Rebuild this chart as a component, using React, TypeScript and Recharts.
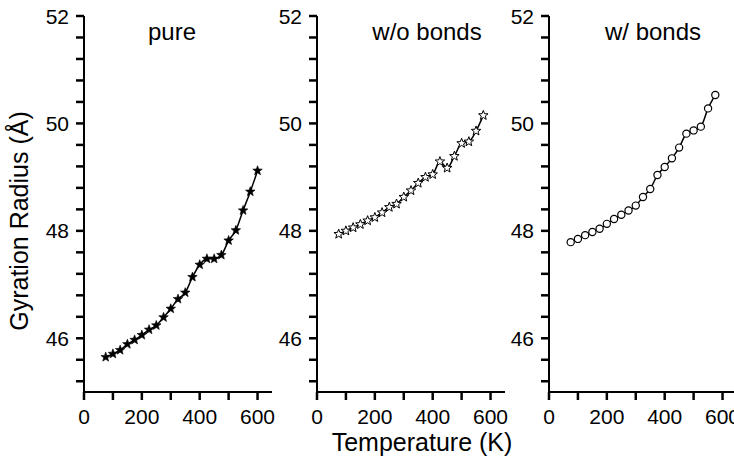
import React from "react";
import { LineChart, Line, XAxis, YAxis } from "recharts";

// Gyration radius (Å) against temperature (K) for the three systems
const TEMPS_PURE = [75, 100, 125, 150, 175, 200, 225, 250, 275, 300, 325, 350, 375, 400, 425, 450, 475, 500, 525, 550, 575, 600];
const TEMPS = [75, 100, 125, 150, 175, 200, 225, 250, 275, 300, 325, 350, 375, 400, 425, 450, 475, 500, 525, 550, 575];

const RG_PURE = [45.65, 45.71, 45.78, 45.89, 45.97, 46.06, 46.16, 46.24, 46.39, 46.55, 46.73, 46.85, 47.14, 47.37, 47.48, 47.48, 47.55, 47.82, 48.01, 48.38, 48.73, 49.12];
const RG_NO_BONDS = [47.94, 48.0, 48.06, 48.12, 48.19, 48.25, 48.34, 48.44, 48.5, 48.63, 48.75, 48.89, 49.0, 49.05, 49.29, 49.17, 49.39, 49.63, 49.66, 49.86, 50.15];
const RG_BONDS = [47.79, 47.85, 47.92, 47.98, 48.04, 48.13, 48.22, 48.3, 48.38, 48.47, 48.63, 48.78, 49.04, 49.19, 49.35, 49.55, 49.81, 49.87, 49.94, 50.28, 50.53];

const Y_TICKS = [45.2, 45.6, 46, 46.4, 46.8, 47.2, 47.6, 48, 48.4, 48.8, 49.2, 49.6, 50, 50.4, 50.8, 51.2, 51.6, 52];
const Y_LABELS = [46, 48, 50, 52];
const X_TICKS = [0, 100, 200, 300, 400, 500, 600];
const X_LABELS = [0, 200, 400, 600];

const FONT = '"Liberation Sans", Arial, Helvetica, sans-serif';
const AXIS_W = 80; // room left of each plot for the y tick labels
const PLOT_TOP = 16;
const PLOT_H = 376;
const PLOT_W = 188;
const X_AXIS_H = 40;
const CHART_W = AXIS_W + PLOT_W + 6;
const CHART_H = PLOT_TOP + PLOT_H + X_AXIS_H;
const Y_TICK_LEN = 8;
const X_TICK_LEN = 8;
const GAP = 2; // recharts' default tickMargin

type Marker = "star" | "openStar" | "circle";

const PANELS: { title: string; left: number; titleX: number; temps: number[]; values: number[]; marker: Marker }[] = [
  { title: "pure", left: 84, titleX: 172, temps: TEMPS_PURE, values: RG_PURE, marker: "star" },
  { title: "w/o bonds", left: 316.5, titleX: 427, temps: TEMPS, values: RG_NO_BONDS, marker: "openStar" },
  { title: "w/ bonds", left: 549, titleX: 653, temps: TEMPS, values: RG_BONDS, marker: "circle" },
];

function starPath(cx: number, cy: number, outer: number, inner: number) {
  let d = "";
  for (let i = 0; i < 10; i++) {
    const r = i % 2 === 0 ? outer : inner;
    const a = -Math.PI / 2 + (i * Math.PI) / 5;
    d += (i === 0 ? "M" : "L") + (cx + r * Math.cos(a)).toFixed(2) + "," + (cy + r * Math.sin(a)).toFixed(2);
  }
  return d + "Z";
}

function renderDot(marker: Marker) {
  return (props: any) => {
    const { cx, cy, index } = props;
    if (cx == null || cy == null) return <g key={index} />;
    if (marker === "circle") {
      return <circle key={index} cx={cx} cy={cy} r={3.6} fill="#fff" stroke="#000" strokeWidth={1.2} />;
    }
    const filled = marker === "star";
    return (
      <path
        key={index}
        d={starPath(cx, cy, 5, 2.1)}
        fill={filled ? "#000" : "#fff"}
        stroke="#000"
        strokeWidth={filled ? 0.6 : 1}
      />
    );
  };
}

// Tick lines come from recharts; these only place the labels on the even values.
function YTick({ x, y, payload }: any) {
  if (!Y_LABELS.includes(payload.value)) return <g />;
  const ax = x + Y_TICK_LEN + GAP;
  return (
    <text x={ax - 15} y={y} dy="0.36em" textAnchor="end" fontSize={21} fontFamily={FONT} fill="#000">
      {payload.value}
    </text>
  );
}

function XTick({ x, y, payload }: any) {
  if (!X_LABELS.includes(payload.value)) return <g />;
  const ay = y - X_TICK_LEN - GAP;
  return (
    <text x={x} y={ay + 32} textAnchor="middle" fontSize={21} fontFamily={FONT} fill="#000">
      {payload.value}
    </text>
  );
}

function Panel({ temps, values, marker, left }: { temps: number[]; values: number[]; marker: Marker; left: number }) {
  const data = temps.map((t, i) => ({ t, r: values[i] }));
  return (
    <div style={{ position: "absolute", left: left - AXIS_W, top: 0 }}>
      <LineChart width={CHART_W} height={CHART_H} data={data} margin={{ top: PLOT_TOP, right: 6, left: 0, bottom: 0 }}>
        <XAxis
          dataKey="t"
          type="number"
          domain={[0, 650]}
          ticks={X_TICKS}
          interval={0}
          height={X_AXIS_H}
          axisLine={{ stroke: "#000", strokeWidth: 2 }}
          tickLine={{ stroke: "#000", strokeWidth: 2.5 }}
          tickSize={X_TICK_LEN}
          tick={(p: any) => <XTick {...p} />}
        />
        <YAxis
          type="number"
          domain={[45, 52]}
          ticks={Y_TICKS}
          interval={0}
          width={AXIS_W}
          axisLine={{ stroke: "#000", strokeWidth: 2 }}
          tickLine={{ stroke: "#000", strokeWidth: 2.5 }}
          tickSize={Y_TICK_LEN}
          tick={(p: any) => <YTick {...p} />}
        />
        <Line
          type="monotone"
          dataKey="r"
          stroke="#000"
          strokeWidth={1.5}
          dot={renderDot(marker)}
          isAnimationActive={false}
        />
      </LineChart>
    </div>
  );
}

export default function App() {
  return (
    <div style={{ position: "absolute", left: 0, top: 0, width: 734, height: 460, overflow: "hidden", background: "#fff" }}>
      {PANELS.map((p) => (
        <Panel key={p.title} temps={p.temps} values={p.values} marker={p.marker} left={p.left} />
      ))}
      <svg width={734} height={460} style={{ position: "absolute", left: 0, top: 0, pointerEvents: "none" }}>
        {PANELS.map((p) => (
          <text key={p.title} x={p.titleX} y={40} textAnchor="middle" fontSize={24} fontFamily={FONT} fill="#000">
            {p.title}
          </text>
        ))}
        <text x={28} y={221} transform="rotate(-90 28 221)" textAnchor="middle" fontSize={25} fontFamily={FONT} fill="#000">
          Gyration Radius (Å)
        </text>
        <text x={422} y={451} textAnchor="middle" fontSize={25} fontFamily={FONT} fill="#000">
          Temperature (K)
        </text>
      </svg>
    </div>
  );
}
